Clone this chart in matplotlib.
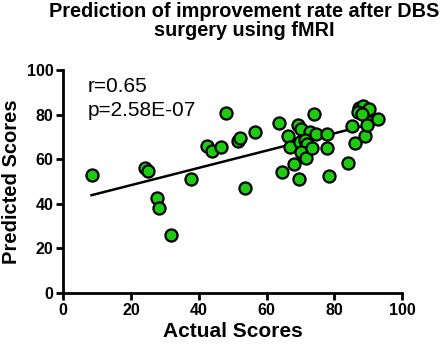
import numpy as np
import matplotlib
matplotlib.use("Agg")
import matplotlib.pyplot as plt

plt.rcParams['font.family'] = ['Liberation Sans', 'DejaVu Sans']

actual = [8.4, 24.1, 25.1, 27.7, 28.3, 31.8, 37.6, 42.3, 43.8, 46.7, 47.9, 51.6, 52.1, 53.6,
          56.6, 63.6, 74.0, 66.4, 69.2, 70.2, 72.8, 74.7, 77.7, 66.8, 69.8, 71.3, 71.8, 70.2,
          71.6, 73.5, 77.7, 68.2, 64.6, 69.5, 78.4, 84.1, 86.1, 89.0, 85.1, 90.0, 92.9, 87.3,
          88.3, 90.3, 87.0, 88.0, 89.5]
predicted = [53.0, 55.9, 54.7, 42.7, 38.0, 26.0, 51.0, 65.9, 63.8, 65.6, 80.6, 68.3, 69.4, 46.9,
             72.0, 76.0, 80.1, 70.2, 75.2, 73.4, 72.4, 71.1, 71.5, 65.3, 67.6, 68.7, 67.0, 63.0,
             60.7, 64.9, 64.9, 58.0, 54.2, 51.1, 52.3, 58.3, 67.1, 70.4, 74.8, 76.6, 77.9, 82.8,
             84.0, 82.4, 81.0, 80.2, 75.5]
title = "Prediction of improvement rate after DBS\nsurgery using fMRI"
stats_text = ["r=0.65", "p=2.58E-07"]
xticks = [0, 20, 40, 60, 80, 100]
yticks = [0, 20, 40, 60, 80, 100]

x = np.array(actual)
y = np.array(predicted)

fig = plt.figure(figsize=(4.47, 3.48), dpi=100)
ax = fig.add_axes([0.141, 0.158, 0.759, 0.641])

slope, intercept = np.polyfit(x, y, 1)
xl = np.array([x.min(), x.max()])
ax.plot(xl, slope * xl + intercept, color='black', lw=1.8, zorder=2)
ax.scatter(x, y, s=76, c='#1ecb10', edgecolors='black', linewidths=1.6, zorder=3, clip_on=False)

ax.set_xlim(0, 100)
ax.set_ylim(0, 100)
ax.set_xticks(xticks)
ax.set_yticks(yticks)
for s in ['top', 'right']:
    ax.spines[s].set_visible(False)
for s in ['left', 'bottom']:
    ax.spines[s].set_linewidth(2)
ax.tick_params(direction='out', length=5, width=2, labelsize=11.5, pad=2)
for lab in ax.get_xticklabels() + ax.get_yticklabels():
    lab.set_fontweight('bold')

ax.set_xlabel("Actual Scores", fontsize=15, fontweight='bold', labelpad=3)
ax.set_ylabel("Predicted Scores", fontsize=14.5, fontweight='bold', labelpad=4)
fig.suptitle(title, fontsize=14.3, fontweight='bold', y=0.995, va='top', linespacing=1.05, x=0.546)

ax.text(7.3, 90, stats_text[0], fontsize=15, va='baseline', ha='left')
ax.text(7.3, 79.5, stats_text[1], fontsize=15, va='baseline', ha='left')

fig.savefig("out.png", dpi=100)
